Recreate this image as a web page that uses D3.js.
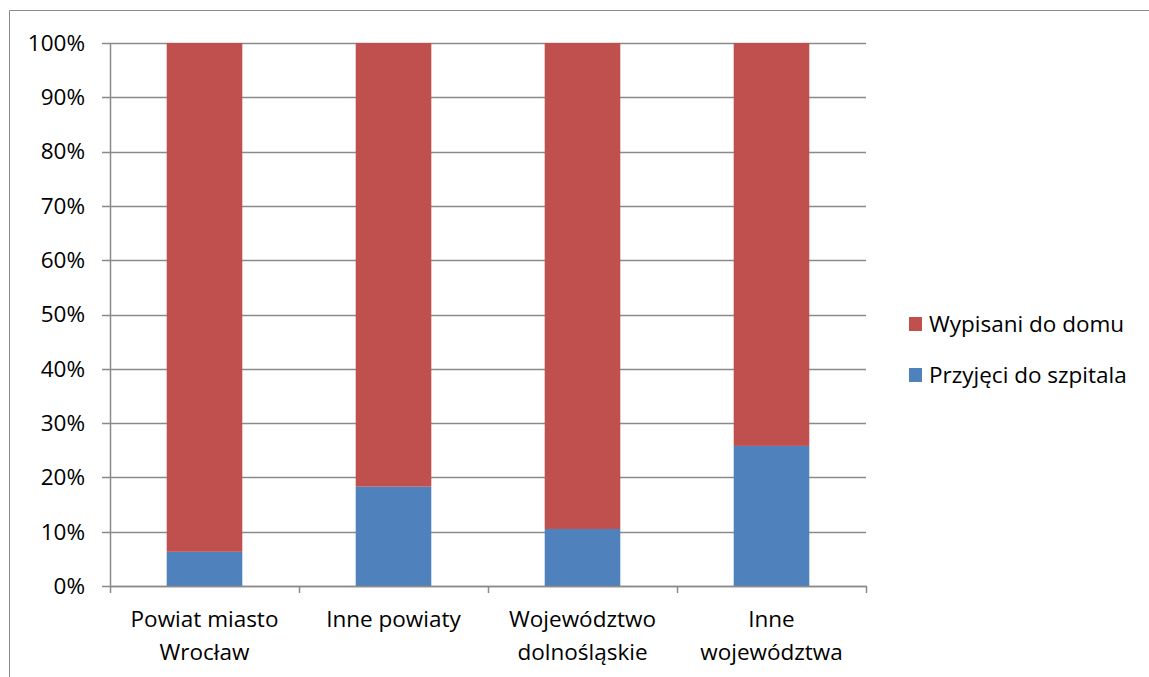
<!DOCTYPE html>
<html>
<head>
<meta charset="utf-8">
<script src="https://cdn.jsdelivr.net/npm/d3@7"></script>
<style>
  html, body { margin: 0; padding: 0; background: #fff; }
  svg { display: block; font-family: "Open Sans", "Noto Sans", sans-serif; }
</style>
</head>
<body>
<svg id="chart" width="1149" height="677"></svg>
<script>
// Categories (two-line axis labels)
const categories = [
  ["Powiat miasto", "Wrocław"],
  ["Inne powiaty"],
  ["Województwo", "dolnośląskie"],
  ["Inne", "województwa"]
];
// Share of patients (percent)
const admitted = [6.3, 18.3, 10.5, 25.8];          // Przyjęci do szpitala
const discharged = admitted.map(v => 100 - v);     // Wypisani do domu
const yTicks = [0, 10, 20, 30, 40, 50, 60, 70, 80, 90, 100];

const seriesNames = ["Przyjęci do szpitala", "Wypisani do domu"];
const seriesColors = ["#4F81BD", "#C0504D"];

const svg = d3.select("#chart");
const plotLeft = 110, plotRight = 866, plotTop = 43, plotBottom = 586;
const fontSize = 22.5;

// Outer chart frame
svg.append("path")
  .attr("d", "M9.5,677 V10.5 H1149")
  .attr("fill", "none").attr("stroke", "#8c8c8c").attr("stroke-width", 1);

const keys = categories.map((c, i) => i);
const x = d3.scaleBand().domain(keys).range([plotLeft, plotRight])
  .paddingInner(0.6).paddingOuter(0.3);
const xFull = d3.scaleBand().domain(keys).range([plotLeft, plotRight]);
const y = d3.scaleLinear().domain([0, 100]).range([plotBottom, plotTop]);

// Gridlines with left tick stubs
svg.append("g").selectAll("line").data(yTicks).join("line")
  .attr("x1", plotLeft - 8).attr("x2", plotRight)
  .attr("y1", d => Math.round(y(d)) + 0.5).attr("y2", d => Math.round(y(d)) + 0.5)
  .attr("stroke", "#8a8a8a").attr("stroke-width", 1.5);

// Y tick labels
svg.append("g").selectAll("text").data(yTicks).join("text")
  .attr("x", 85).attr("y", d => y(d))
  .attr("dy", "0.35em").attr("text-anchor", "end")
  .attr("font-size", fontSize).attr("fill", "#000")
  .text(d => d + "%");

// Stacked bars
const stackData = keys.map(i => ({ i, a: admitted[i], d: discharged[i] }));
const stack = d3.stack().keys(["a", "d"])(stackData);
svg.append("g").selectAll("g").data(stack).join("g")
  .attr("fill", (s, k) => seriesColors[k])
  .selectAll("rect").data(s => s).join("rect")
  .attr("x", d => x(d.data.i))
  .attr("width", x.bandwidth())
  .attr("y", d => y(d[1]))
  .attr("height", d => y(d[0]) - y(d[1]));

// Y axis line
svg.append("line")
  .attr("x1", plotLeft + 0.5).attr("x2", plotLeft + 0.5)
  .attr("y1", plotTop).attr("y2", plotBottom + 1)
  .attr("stroke", "#8a8a8a").attr("stroke-width", 1.5);

// X axis line and ticks between categories
svg.append("line")
  .attr("x1", plotLeft).attr("x2", plotRight + 1)
  .attr("y1", plotBottom + 0.5).attr("y2", plotBottom + 0.5)
  .attr("stroke", "#8a8a8a").attr("stroke-width", 1.5);
const xTickPos = keys.map(i => xFull(i)).concat([plotRight]);
svg.append("g").selectAll("line").data(xTickPos).join("line")
  .attr("x1", d => Math.round(d) + 0.5).attr("x2", d => Math.round(d) + 0.5)
  .attr("y1", plotBottom).attr("y2", plotBottom + 7)
  .attr("stroke", "#8a8a8a").attr("stroke-width", 1.5);

// X category labels
svg.append("g").selectAll("text").data(categories).join("text")
  .attr("x", (c, i) => x(i) + x.bandwidth() / 2)
  .attr("y", 627)
  .attr("text-anchor", "middle").attr("font-size", fontSize).attr("fill", "#000")
  .selectAll("tspan").data(c => c).join("tspan")
  .attr("x", function () { return this.parentNode.getAttribute("x"); })
  .attr("dy", (d, j) => j === 0 ? 0 : 33)
  .text(d => d);

// Legend (top item is the upper series)
const legendItems = [1, 0];
const lg = svg.append("g").selectAll("g").data(legendItems).join("g")
  .attr("transform", (d, j) => `translate(909, ${324 + j * 51})`);
lg.append("rect").attr("x", 0).attr("y", -7).attr("width", 13).attr("height", 14)
  .attr("fill", d => seriesColors[d]);
lg.append("text").attr("x", 20).attr("y", 0).attr("dy", "0.35em")
  .attr("font-size", fontSize).attr("fill", "#000")
  .text(d => seriesNames[d]);
</script>
</body>
</html>
